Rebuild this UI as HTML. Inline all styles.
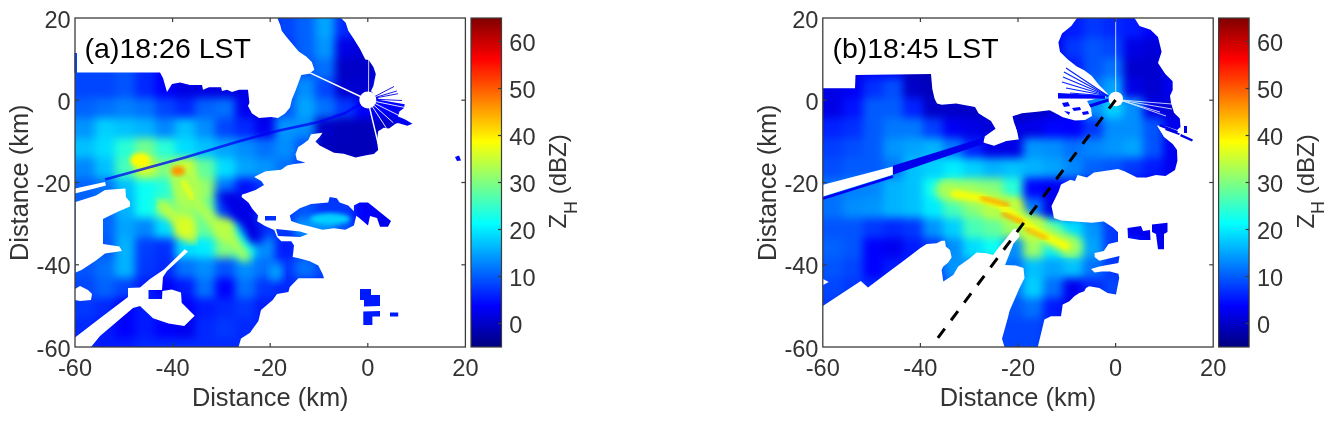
<!DOCTYPE html>
<html><head><meta charset="utf-8"><style>
html,body{margin:0;padding:0;background:#fff;width:1334px;height:421px;overflow:hidden}
svg{display:block;will-change:transform}
text{font-family:"Liberation Sans",sans-serif;}
.tk{font-size:23.6px;fill:#333}
.lb{font-size:25.4px;fill:#333}
.sub{font-size:18px}
.cl{font-size:24px;fill:#333}
.ti{font-size:28.5px;fill:#000}
</style></head><body>
<svg width="1334" height="421" viewBox="0 0 1334 421">
<defs>
<filter id="gbl" x="-5%" y="-5%" width="110%" height="110%" color-interpolation-filters="sRGB"><feGaussianBlur stdDeviation="4"/></filter>
<filter id="bl4" x="-20%" y="-20%" width="140%" height="140%" color-interpolation-filters="sRGB"><feGaussianBlur stdDeviation="4"/></filter>
<filter id="bl7" x="-30%" y="-30%" width="160%" height="160%" color-interpolation-filters="sRGB"><feGaussianBlur stdDeviation="7"/></filter>
<filter id="bl05" x="-5%" y="-20%" width="110%" height="140%" color-interpolation-filters="sRGB"><feGaussianBlur stdDeviation="0.6"/></filter>
<filter id="bl2" x="-20%" y="-20%" width="140%" height="140%" color-interpolation-filters="sRGB"><feGaussianBlur stdDeviation="2"/></filter>
</defs>
<rect width="1334" height="421" fill="#fff"/>
<clipPath id="clipA">
<polygon points="75.0,72.5 160.0,72.5 163.0,78.0 167.0,92.0 172.0,84.0 180.0,82.5 190.0,85.0 202.0,85.0 203.0,89.7 209.0,87.3 221.0,87.3 222.0,91.0 227.0,89.7 232.0,92.0 239.0,89.7 248.0,89.7 249.4,102.8 248.0,106.0 252.0,113.4 259.0,118.0 271.0,117.0 278.0,118.0 285.0,113.4 290.0,107.5 292.0,99.0 294.5,93.3 298.0,84.0 301.3,75.0 309.0,73.7 314.4,69.8 311.8,62.0 306.5,56.8 298.7,51.6 292.2,43.7 285.7,36.0 281.7,30.7 280.4,25.4 277.8,19.0 278.0,18.0 341.0,18.0 345.7,22.8 348.3,30.7 353.5,38.5 360.0,49.0 365.3,59.4 368.7,60.0 373.4,67.0 375.8,74.0 373.4,86.0 371.0,91.0 375.0,96.0 380.0,100.0 404.7,104.2 404.0,108.0 399.4,111.4 398.0,116.6 404.7,119.2 412.5,123.8 407.3,125.8 398.0,123.0 395.5,123.8 389.0,128.4 383.8,127.7 378.2,131.3 377.0,140.8 378.2,150.0 373.8,154.0 367.5,155.0 355.6,157.4 343.8,153.8 334.0,152.8 319.7,145.6 315.4,141.4 319.7,137.0 322.5,132.8 311.0,134.2 308.3,140.0 302.6,144.2 298.3,147.0 295.5,154.2 296.9,160.0 305.4,162.7 294.0,164.0 287.0,165.6 281.2,169.8 265.6,171.3 257.0,175.5 254.2,177.0 261.3,181.0 264.0,185.0 255.6,190.0 247.0,193.0 242.0,194.5 241.4,197.0 248.5,202.8 252.0,208.5 258.0,215.6 257.0,221.3 265.0,226.0 274.2,230.0 277.0,237.0 281.3,241.3 291.3,241.3 294.0,245.6 292.7,257.0 299.8,258.4 309.8,261.2 318.3,265.5 322.6,274.0 324.0,278.3 314.0,278.3 298.4,278.3 289.8,287.0 288.4,292.0 277.0,294.0 272.7,300.0 261.0,310.0 258.4,321.0 250.0,332.7 241.0,338.4 238.5,347.0 75.0,347.0"/>
<polygon points="289.8,215.4 299.8,208.3 311.0,204.0 328.2,202.6 329.7,197.0 336.8,198.3 339.6,202.6 348.2,205.4 356.7,214.0 353.9,225.4 345.3,229.7 334.0,228.2 322.5,229.7 311.0,226.8 299.8,224.0 291.2,221.0"/>
<polygon points="276.0,229.0 300.0,231.5 308.0,234.0 300.0,237.0 278.0,236.0"/>
<polygon points="265.0,216.0 276.0,216.0 276.0,220.5 265.0,220.5"/>
<polygon points="353.9,205.4 359.6,202.6 368.0,202.6 375.2,208.3 382.3,214.0 391.0,221.0 388.0,226.8 380.0,226.8 377.0,218.0 370.0,216.0 368.0,225.4 359.6,218.3 353.9,214.0"/>
<polygon points="360.0,289.0 371.0,289.0 371.0,295.0 380.0,295.0 380.0,306.0 364.0,306.6 364.0,300.0 360.0,300.0"/>
<polygon points="363.3,311.5 380.0,311.0 380.0,316.6 372.4,316.6 372.4,325.0 363.3,325.0"/>
<polygon points="390.0,312.4 398.2,312.4 398.2,316.6 390.0,316.6"/>
<polygon points="455.0,157.0 459.0,155.5 461.0,160.5 457.0,161.0"/>
<polygon points="74.5,53.0 77.0,53.0 77.0,72.6 74.5,72.6"/>
</clipPath>
<g clip-path="url(#clipA)">
<g filter="url(#gbl)"><rect x="55" y="-2" width="20.5" height="20.5" fill="#0045ff"/><rect x="75" y="-2" width="20.5" height="20.5" fill="#0045ff"/><rect x="95" y="-2" width="20.5" height="20.5" fill="#0045ff"/><rect x="115" y="-2" width="20.5" height="20.5" fill="#0054ff"/><rect x="135" y="-2" width="20.5" height="20.5" fill="#0028ff"/><rect x="155" y="-2" width="20.5" height="20.5" fill="#0000fe"/><rect x="175" y="-2" width="20.5" height="20.5" fill="#0000e1"/><rect x="195" y="-2" width="20.5" height="20.5" fill="#0000e1"/><rect x="215" y="-2" width="20.5" height="20.5" fill="#0000e1"/><rect x="235" y="-2" width="20.5" height="20.5" fill="#0000e1"/><rect x="255" y="-2" width="20.5" height="20.5" fill="#0000e1"/><rect x="275" y="-2" width="20.5" height="20.5" fill="#0045ff"/><rect x="295" y="-2" width="20.5" height="20.5" fill="#0062ff"/><rect x="315" y="-2" width="20.5" height="20.5" fill="#00a4ff"/><rect x="335" y="-2" width="20.5" height="20.5" fill="#0028ff"/><rect x="355" y="-2" width="20.5" height="20.5" fill="#0000fe"/><rect x="375" y="-2" width="20.5" height="20.5" fill="#0000fe"/><rect x="395" y="-2" width="20.5" height="20.5" fill="#0000fe"/><rect x="415" y="-2" width="20.5" height="20.5" fill="#0000fe"/><rect x="435" y="-2" width="20.5" height="20.5" fill="#0000fe"/><rect x="455" y="-2" width="20.5" height="20.5" fill="#0000fe"/><rect x="475" y="-2" width="20.5" height="20.5" fill="#0000fe"/><rect x="55" y="18" width="20.5" height="20.5" fill="#0045ff"/><rect x="75" y="18" width="20.5" height="20.5" fill="#0045ff"/><rect x="95" y="18" width="20.5" height="20.5" fill="#0045ff"/><rect x="115" y="18" width="20.5" height="20.5" fill="#0054ff"/><rect x="135" y="18" width="20.5" height="20.5" fill="#0028ff"/><rect x="155" y="18" width="20.5" height="20.5" fill="#0000fe"/><rect x="175" y="18" width="20.5" height="20.5" fill="#0000e1"/><rect x="195" y="18" width="20.5" height="20.5" fill="#0000e1"/><rect x="215" y="18" width="20.5" height="20.5" fill="#0000e1"/><rect x="235" y="18" width="20.5" height="20.5" fill="#0000e1"/><rect x="255" y="18" width="20.5" height="20.5" fill="#0000e1"/><rect x="275" y="18" width="20.5" height="20.5" fill="#0045ff"/><rect x="295" y="18" width="20.5" height="20.5" fill="#0062ff"/><rect x="315" y="18" width="20.5" height="20.5" fill="#00a4ff"/><rect x="335" y="18" width="20.5" height="20.5" fill="#0028ff"/><rect x="355" y="18" width="20.5" height="20.5" fill="#0000fe"/><rect x="375" y="18" width="20.5" height="20.5" fill="#0000fe"/><rect x="395" y="18" width="20.5" height="20.5" fill="#0000fe"/><rect x="415" y="18" width="20.5" height="20.5" fill="#0000fe"/><rect x="435" y="18" width="20.5" height="20.5" fill="#0000fe"/><rect x="455" y="18" width="20.5" height="20.5" fill="#0000fe"/><rect x="475" y="18" width="20.5" height="20.5" fill="#0000fe"/><rect x="55" y="38" width="20.5" height="20.5" fill="#0045ff"/><rect x="75" y="38" width="20.5" height="20.5" fill="#0045ff"/><rect x="95" y="38" width="20.5" height="20.5" fill="#0045ff"/><rect x="115" y="38" width="20.5" height="20.5" fill="#0054ff"/><rect x="135" y="38" width="20.5" height="20.5" fill="#0028ff"/><rect x="155" y="38" width="20.5" height="20.5" fill="#0000fe"/><rect x="175" y="38" width="20.5" height="20.5" fill="#0000e1"/><rect x="195" y="38" width="20.5" height="20.5" fill="#0000e1"/><rect x="215" y="38" width="20.5" height="20.5" fill="#0000e1"/><rect x="235" y="38" width="20.5" height="20.5" fill="#0000e1"/><rect x="255" y="38" width="20.5" height="20.5" fill="#0000e1"/><rect x="275" y="38" width="20.5" height="20.5" fill="#0037ff"/><rect x="295" y="38" width="20.5" height="20.5" fill="#0062ff"/><rect x="315" y="38" width="20.5" height="20.5" fill="#0095ff"/><rect x="335" y="38" width="20.5" height="20.5" fill="#0000e6"/><rect x="355" y="38" width="20.5" height="20.5" fill="#0000d7"/><rect x="375" y="38" width="20.5" height="20.5" fill="#0000f0"/><rect x="395" y="38" width="20.5" height="20.5" fill="#0000fe"/><rect x="415" y="38" width="20.5" height="20.5" fill="#0000fe"/><rect x="435" y="38" width="20.5" height="20.5" fill="#0000fe"/><rect x="455" y="38" width="20.5" height="20.5" fill="#0000fe"/><rect x="475" y="38" width="20.5" height="20.5" fill="#0000fe"/><rect x="55" y="58" width="20.5" height="20.5" fill="#0045ff"/><rect x="75" y="58" width="20.5" height="20.5" fill="#0045ff"/><rect x="95" y="58" width="20.5" height="20.5" fill="#0045ff"/><rect x="115" y="58" width="20.5" height="20.5" fill="#0054ff"/><rect x="135" y="58" width="20.5" height="20.5" fill="#0028ff"/><rect x="155" y="58" width="20.5" height="20.5" fill="#0000fe"/><rect x="175" y="58" width="20.5" height="20.5" fill="#0000e1"/><rect x="195" y="58" width="20.5" height="20.5" fill="#0000e1"/><rect x="215" y="58" width="20.5" height="20.5" fill="#0000e1"/><rect x="235" y="58" width="20.5" height="20.5" fill="#0000e1"/><rect x="255" y="58" width="20.5" height="20.5" fill="#0000e1"/><rect x="275" y="58" width="20.5" height="20.5" fill="#0037ff"/><rect x="295" y="58" width="20.5" height="20.5" fill="#0054ff"/><rect x="315" y="58" width="20.5" height="20.5" fill="#0071ff"/><rect x="335" y="58" width="20.5" height="20.5" fill="#0000c8"/><rect x="355" y="58" width="20.5" height="20.5" fill="#0000c8"/><rect x="375" y="58" width="20.5" height="20.5" fill="#0000f0"/><rect x="395" y="58" width="20.5" height="20.5" fill="#0000fe"/><rect x="415" y="58" width="20.5" height="20.5" fill="#0000fe"/><rect x="435" y="58" width="20.5" height="20.5" fill="#0000fe"/><rect x="455" y="58" width="20.5" height="20.5" fill="#0000fe"/><rect x="475" y="58" width="20.5" height="20.5" fill="#0000fe"/><rect x="55" y="78" width="20.5" height="20.5" fill="#0045ff"/><rect x="75" y="78" width="20.5" height="20.5" fill="#0045ff"/><rect x="95" y="78" width="20.5" height="20.5" fill="#0045ff"/><rect x="115" y="78" width="20.5" height="20.5" fill="#0054ff"/><rect x="135" y="78" width="20.5" height="20.5" fill="#0028ff"/><rect x="155" y="78" width="20.5" height="20.5" fill="#0000fe"/><rect x="175" y="78" width="20.5" height="20.5" fill="#0000e1"/><rect x="195" y="78" width="20.5" height="20.5" fill="#0000e1"/><rect x="215" y="78" width="20.5" height="20.5" fill="#0000e1"/><rect x="235" y="78" width="20.5" height="20.5" fill="#0000e1"/><rect x="255" y="78" width="20.5" height="20.5" fill="#0000e1"/><rect x="275" y="78" width="20.5" height="20.5" fill="#0054ff"/><rect x="295" y="78" width="20.5" height="20.5" fill="#008eff"/><rect x="315" y="78" width="20.5" height="20.5" fill="#0045ff"/><rect x="335" y="78" width="20.5" height="20.5" fill="#0000d0"/><rect x="355" y="78" width="20.5" height="20.5" fill="#0000d0"/><rect x="375" y="78" width="20.5" height="20.5" fill="#001aff"/><rect x="395" y="78" width="20.5" height="20.5" fill="#0000fe"/><rect x="415" y="78" width="20.5" height="20.5" fill="#0000fe"/><rect x="435" y="78" width="20.5" height="20.5" fill="#0000fe"/><rect x="455" y="78" width="20.5" height="20.5" fill="#0000fe"/><rect x="475" y="78" width="20.5" height="20.5" fill="#0000fe"/><rect x="55" y="98" width="20.5" height="20.5" fill="#0062ff"/><rect x="75" y="98" width="20.5" height="20.5" fill="#0062ff"/><rect x="95" y="98" width="20.5" height="20.5" fill="#0071ff"/><rect x="115" y="98" width="20.5" height="20.5" fill="#0080ff"/><rect x="135" y="98" width="20.5" height="20.5" fill="#0071ff"/><rect x="155" y="98" width="20.5" height="20.5" fill="#0045ff"/><rect x="175" y="98" width="20.5" height="20.5" fill="#0028ff"/><rect x="195" y="98" width="20.5" height="20.5" fill="#0062ff"/><rect x="215" y="98" width="20.5" height="20.5" fill="#0071ff"/><rect x="235" y="98" width="20.5" height="20.5" fill="#0000f0"/><rect x="255" y="98" width="20.5" height="20.5" fill="#0000e1"/><rect x="275" y="98" width="20.5" height="20.5" fill="#0054ff"/><rect x="295" y="98" width="20.5" height="20.5" fill="#00a4ff"/><rect x="315" y="98" width="20.5" height="20.5" fill="#0071ff"/><rect x="335" y="98" width="20.5" height="20.5" fill="#0037ff"/><rect x="355" y="98" width="20.5" height="20.5" fill="#0000fe"/><rect x="375" y="98" width="20.5" height="20.5" fill="#0000fe"/><rect x="395" y="98" width="20.5" height="20.5" fill="#0000fe"/><rect x="415" y="98" width="20.5" height="20.5" fill="#0000fe"/><rect x="435" y="98" width="20.5" height="20.5" fill="#0000fe"/><rect x="455" y="98" width="20.5" height="20.5" fill="#0000fe"/><rect x="475" y="98" width="20.5" height="20.5" fill="#0000fe"/><rect x="55" y="118" width="20.5" height="20.5" fill="#0095ff"/><rect x="75" y="118" width="20.5" height="20.5" fill="#0095ff"/><rect x="95" y="118" width="20.5" height="20.5" fill="#00d0ff"/><rect x="115" y="118" width="20.5" height="20.5" fill="#00c1ff"/><rect x="135" y="118" width="20.5" height="20.5" fill="#00b3ff"/><rect x="155" y="118" width="20.5" height="20.5" fill="#0087ff"/><rect x="175" y="118" width="20.5" height="20.5" fill="#00c1ff"/><rect x="195" y="118" width="20.5" height="20.5" fill="#008eff"/><rect x="215" y="118" width="20.5" height="20.5" fill="#0045ff"/><rect x="235" y="118" width="20.5" height="20.5" fill="#0028ff"/><rect x="255" y="118" width="20.5" height="20.5" fill="#0000f0"/><rect x="275" y="118" width="20.5" height="20.5" fill="#0095ff"/><rect x="295" y="118" width="20.5" height="20.5" fill="#008eff"/><rect x="315" y="118" width="20.5" height="20.5" fill="#0000c8"/><rect x="335" y="118" width="20.5" height="20.5" fill="#0000ba"/><rect x="355" y="118" width="20.5" height="20.5" fill="#0000ba"/><rect x="375" y="118" width="20.5" height="20.5" fill="#0000c8"/><rect x="395" y="118" width="20.5" height="20.5" fill="#0000f0"/><rect x="415" y="118" width="20.5" height="20.5" fill="#0000fe"/><rect x="435" y="118" width="20.5" height="20.5" fill="#0000fe"/><rect x="455" y="118" width="20.5" height="20.5" fill="#0000fe"/><rect x="475" y="118" width="20.5" height="20.5" fill="#0000fe"/><rect x="55" y="138" width="20.5" height="20.5" fill="#00c1ff"/><rect x="75" y="138" width="20.5" height="20.5" fill="#00c1ff"/><rect x="95" y="138" width="20.5" height="20.5" fill="#00deff"/><rect x="115" y="138" width="20.5" height="20.5" fill="#28ffd7"/><rect x="135" y="138" width="20.5" height="20.5" fill="#71ff8e"/><rect x="155" y="138" width="20.5" height="20.5" fill="#28ffd7"/><rect x="175" y="138" width="20.5" height="20.5" fill="#00deff"/><rect x="195" y="138" width="20.5" height="20.5" fill="#00c1ff"/><rect x="215" y="138" width="20.5" height="20.5" fill="#00a4ff"/><rect x="235" y="138" width="20.5" height="20.5" fill="#008eff"/><rect x="255" y="138" width="20.5" height="20.5" fill="#0071ff"/><rect x="275" y="138" width="20.5" height="20.5" fill="#008eff"/><rect x="295" y="138" width="20.5" height="20.5" fill="#0054ff"/><rect x="315" y="138" width="20.5" height="20.5" fill="#0000c1"/><rect x="335" y="138" width="20.5" height="20.5" fill="#0000ba"/><rect x="355" y="138" width="20.5" height="20.5" fill="#0000ba"/><rect x="375" y="138" width="20.5" height="20.5" fill="#0000c8"/><rect x="395" y="138" width="20.5" height="20.5" fill="#0000f0"/><rect x="415" y="138" width="20.5" height="20.5" fill="#0000fe"/><rect x="435" y="138" width="20.5" height="20.5" fill="#0000fe"/><rect x="455" y="138" width="20.5" height="20.5" fill="#0000fe"/><rect x="475" y="138" width="20.5" height="20.5" fill="#0000fe"/><rect x="55" y="158" width="20.5" height="20.5" fill="#0087ff"/><rect x="75" y="158" width="20.5" height="20.5" fill="#0087ff"/><rect x="95" y="158" width="20.5" height="20.5" fill="#00c1ff"/><rect x="115" y="158" width="20.5" height="20.5" fill="#45ffba"/><rect x="135" y="158" width="20.5" height="20.5" fill="#d7ff28"/><rect x="155" y="158" width="20.5" height="20.5" fill="#80ff80"/><rect x="175" y="158" width="20.5" height="20.5" fill="#d7ff28"/><rect x="195" y="158" width="20.5" height="20.5" fill="#62ff9d"/><rect x="215" y="158" width="20.5" height="20.5" fill="#00deff"/><rect x="235" y="158" width="20.5" height="20.5" fill="#00a4ff"/><rect x="255" y="158" width="20.5" height="20.5" fill="#0095ff"/><rect x="275" y="158" width="20.5" height="20.5" fill="#0071ff"/><rect x="295" y="158" width="20.5" height="20.5" fill="#0037ff"/><rect x="315" y="158" width="20.5" height="20.5" fill="#0000d7"/><rect x="335" y="158" width="20.5" height="20.5" fill="#0000c8"/><rect x="355" y="158" width="20.5" height="20.5" fill="#0000c8"/><rect x="375" y="158" width="20.5" height="20.5" fill="#0000d7"/><rect x="395" y="158" width="20.5" height="20.5" fill="#0000fe"/><rect x="415" y="158" width="20.5" height="20.5" fill="#0000fe"/><rect x="435" y="158" width="20.5" height="20.5" fill="#0000fe"/><rect x="455" y="158" width="20.5" height="20.5" fill="#0000fe"/><rect x="475" y="158" width="20.5" height="20.5" fill="#0000fe"/><rect x="55" y="178" width="20.5" height="20.5" fill="#0062ff"/><rect x="75" y="178" width="20.5" height="20.5" fill="#0062ff"/><rect x="95" y="178" width="20.5" height="20.5" fill="#0071ff"/><rect x="115" y="178" width="20.5" height="20.5" fill="#00c1ff"/><rect x="135" y="178" width="20.5" height="20.5" fill="#0bfff4"/><rect x="155" y="178" width="20.5" height="20.5" fill="#28ffd7"/><rect x="175" y="178" width="20.5" height="20.5" fill="#d7ff28"/><rect x="195" y="178" width="20.5" height="20.5" fill="#8eff71"/><rect x="215" y="178" width="20.5" height="20.5" fill="#0078ff"/><rect x="235" y="178" width="20.5" height="20.5" fill="#0012ff"/><rect x="255" y="178" width="20.5" height="20.5" fill="#0037ff"/><rect x="275" y="178" width="20.5" height="20.5" fill="#0037ff"/><rect x="295" y="178" width="20.5" height="20.5" fill="#0037ff"/><rect x="315" y="178" width="20.5" height="20.5" fill="#0037ff"/><rect x="335" y="178" width="20.5" height="20.5" fill="#0028ff"/><rect x="355" y="178" width="20.5" height="20.5" fill="#0000fe"/><rect x="375" y="178" width="20.5" height="20.5" fill="#0000fe"/><rect x="395" y="178" width="20.5" height="20.5" fill="#0000fe"/><rect x="415" y="178" width="20.5" height="20.5" fill="#0000fe"/><rect x="435" y="178" width="20.5" height="20.5" fill="#0000fe"/><rect x="455" y="178" width="20.5" height="20.5" fill="#0000fe"/><rect x="475" y="178" width="20.5" height="20.5" fill="#0000fe"/><rect x="55" y="198" width="20.5" height="20.5" fill="#0062ff"/><rect x="75" y="198" width="20.5" height="20.5" fill="#0062ff"/><rect x="95" y="198" width="20.5" height="20.5" fill="#0062ff"/><rect x="115" y="198" width="20.5" height="20.5" fill="#00b3ff"/><rect x="135" y="198" width="20.5" height="20.5" fill="#0bfff4"/><rect x="155" y="198" width="20.5" height="20.5" fill="#62ff9d"/><rect x="175" y="198" width="20.5" height="20.5" fill="#9dff62"/><rect x="195" y="198" width="20.5" height="20.5" fill="#62ff9d"/><rect x="215" y="198" width="20.5" height="20.5" fill="#004dff"/><rect x="235" y="198" width="20.5" height="20.5" fill="#0004ff"/><rect x="255" y="198" width="20.5" height="20.5" fill="#0028ff"/><rect x="275" y="198" width="20.5" height="20.5" fill="#0037ff"/><rect x="295" y="198" width="20.5" height="20.5" fill="#0054ff"/><rect x="315" y="198" width="20.5" height="20.5" fill="#0037ff"/><rect x="335" y="198" width="20.5" height="20.5" fill="#0037ff"/><rect x="355" y="198" width="20.5" height="20.5" fill="#0000fe"/><rect x="375" y="198" width="20.5" height="20.5" fill="#0000f0"/><rect x="395" y="198" width="20.5" height="20.5" fill="#0000fe"/><rect x="415" y="198" width="20.5" height="20.5" fill="#0000fe"/><rect x="435" y="198" width="20.5" height="20.5" fill="#0000fe"/><rect x="455" y="198" width="20.5" height="20.5" fill="#0000fe"/><rect x="475" y="198" width="20.5" height="20.5" fill="#0000fe"/><rect x="55" y="218" width="20.5" height="20.5" fill="#0062ff"/><rect x="75" y="218" width="20.5" height="20.5" fill="#0062ff"/><rect x="95" y="218" width="20.5" height="20.5" fill="#0062ff"/><rect x="115" y="218" width="20.5" height="20.5" fill="#00a4ff"/><rect x="135" y="218" width="20.5" height="20.5" fill="#0087ff"/><rect x="155" y="218" width="20.5" height="20.5" fill="#00deff"/><rect x="175" y="218" width="20.5" height="20.5" fill="#e5ff1a"/><rect x="195" y="218" width="20.5" height="20.5" fill="#62ff9d"/><rect x="215" y="218" width="20.5" height="20.5" fill="#baff45"/><rect x="235" y="218" width="20.5" height="20.5" fill="#00edff"/><rect x="255" y="218" width="20.5" height="20.5" fill="#0037ff"/><rect x="275" y="218" width="20.5" height="20.5" fill="#0037ff"/><rect x="295" y="218" width="20.5" height="20.5" fill="#0095ff"/><rect x="315" y="218" width="20.5" height="20.5" fill="#008eff"/><rect x="335" y="218" width="20.5" height="20.5" fill="#0054ff"/><rect x="355" y="218" width="20.5" height="20.5" fill="#0000fe"/><rect x="375" y="218" width="20.5" height="20.5" fill="#0000f0"/><rect x="395" y="218" width="20.5" height="20.5" fill="#0000fe"/><rect x="415" y="218" width="20.5" height="20.5" fill="#0000fe"/><rect x="435" y="218" width="20.5" height="20.5" fill="#0000fe"/><rect x="455" y="218" width="20.5" height="20.5" fill="#0000fe"/><rect x="475" y="218" width="20.5" height="20.5" fill="#0000fe"/><rect x="55" y="238" width="20.5" height="20.5" fill="#0054ff"/><rect x="75" y="238" width="20.5" height="20.5" fill="#0054ff"/><rect x="95" y="238" width="20.5" height="20.5" fill="#0054ff"/><rect x="115" y="238" width="20.5" height="20.5" fill="#00b3ff"/><rect x="135" y="238" width="20.5" height="20.5" fill="#003eff"/><rect x="155" y="238" width="20.5" height="20.5" fill="#002fff"/><rect x="175" y="238" width="20.5" height="20.5" fill="#00deff"/><rect x="195" y="238" width="20.5" height="20.5" fill="#00edff"/><rect x="215" y="238" width="20.5" height="20.5" fill="#80ff80"/><rect x="235" y="238" width="20.5" height="20.5" fill="#0bfff4"/><rect x="255" y="238" width="20.5" height="20.5" fill="#008eff"/><rect x="275" y="238" width="20.5" height="20.5" fill="#001aff"/><rect x="295" y="238" width="20.5" height="20.5" fill="#0037ff"/><rect x="315" y="238" width="20.5" height="20.5" fill="#0037ff"/><rect x="335" y="238" width="20.5" height="20.5" fill="#0037ff"/><rect x="355" y="238" width="20.5" height="20.5" fill="#0000fe"/><rect x="375" y="238" width="20.5" height="20.5" fill="#0000fe"/><rect x="395" y="238" width="20.5" height="20.5" fill="#0000fe"/><rect x="415" y="238" width="20.5" height="20.5" fill="#0000fe"/><rect x="435" y="238" width="20.5" height="20.5" fill="#0000fe"/><rect x="455" y="238" width="20.5" height="20.5" fill="#0000fe"/><rect x="475" y="238" width="20.5" height="20.5" fill="#0000fe"/><rect x="55" y="258" width="20.5" height="20.5" fill="#0054ff"/><rect x="75" y="258" width="20.5" height="20.5" fill="#0054ff"/><rect x="95" y="258" width="20.5" height="20.5" fill="#0071ff"/><rect x="115" y="258" width="20.5" height="20.5" fill="#00b3ff"/><rect x="135" y="258" width="20.5" height="20.5" fill="#0037ff"/><rect x="155" y="258" width="20.5" height="20.5" fill="#0028ff"/><rect x="175" y="258" width="20.5" height="20.5" fill="#0071ff"/><rect x="195" y="258" width="20.5" height="20.5" fill="#008eff"/><rect x="215" y="258" width="20.5" height="20.5" fill="#0054ff"/><rect x="235" y="258" width="20.5" height="20.5" fill="#008eff"/><rect x="255" y="258" width="20.5" height="20.5" fill="#0071ff"/><rect x="275" y="258" width="20.5" height="20.5" fill="#0037ff"/><rect x="295" y="258" width="20.5" height="20.5" fill="#0071ff"/><rect x="315" y="258" width="20.5" height="20.5" fill="#0045ff"/><rect x="335" y="258" width="20.5" height="20.5" fill="#0028ff"/><rect x="355" y="258" width="20.5" height="20.5" fill="#001aff"/><rect x="375" y="258" width="20.5" height="20.5" fill="#001aff"/><rect x="395" y="258" width="20.5" height="20.5" fill="#001aff"/><rect x="415" y="258" width="20.5" height="20.5" fill="#001aff"/><rect x="435" y="258" width="20.5" height="20.5" fill="#001aff"/><rect x="455" y="258" width="20.5" height="20.5" fill="#001aff"/><rect x="475" y="258" width="20.5" height="20.5" fill="#001aff"/><rect x="55" y="278" width="20.5" height="20.5" fill="#0045ff"/><rect x="75" y="278" width="20.5" height="20.5" fill="#0045ff"/><rect x="95" y="278" width="20.5" height="20.5" fill="#0062ff"/><rect x="115" y="278" width="20.5" height="20.5" fill="#0045ff"/><rect x="135" y="278" width="20.5" height="20.5" fill="#001aff"/><rect x="155" y="278" width="20.5" height="20.5" fill="#0000fe"/><rect x="175" y="278" width="20.5" height="20.5" fill="#001aff"/><rect x="195" y="278" width="20.5" height="20.5" fill="#0071ff"/><rect x="215" y="278" width="20.5" height="20.5" fill="#0000fe"/><rect x="235" y="278" width="20.5" height="20.5" fill="#0071ff"/><rect x="255" y="278" width="20.5" height="20.5" fill="#0037ff"/><rect x="275" y="278" width="20.5" height="20.5" fill="#0028ff"/><rect x="295" y="278" width="20.5" height="20.5" fill="#0028ff"/><rect x="315" y="278" width="20.5" height="20.5" fill="#0028ff"/><rect x="335" y="278" width="20.5" height="20.5" fill="#001aff"/><rect x="355" y="278" width="20.5" height="20.5" fill="#001aff"/><rect x="375" y="278" width="20.5" height="20.5" fill="#001aff"/><rect x="395" y="278" width="20.5" height="20.5" fill="#001aff"/><rect x="415" y="278" width="20.5" height="20.5" fill="#001aff"/><rect x="435" y="278" width="20.5" height="20.5" fill="#001aff"/><rect x="455" y="278" width="20.5" height="20.5" fill="#001aff"/><rect x="475" y="278" width="20.5" height="20.5" fill="#001aff"/><rect x="55" y="298" width="20.5" height="20.5" fill="#0037ff"/><rect x="75" y="298" width="20.5" height="20.5" fill="#0037ff"/><rect x="95" y="298" width="20.5" height="20.5" fill="#0028ff"/><rect x="115" y="298" width="20.5" height="20.5" fill="#0000fe"/><rect x="135" y="298" width="20.5" height="20.5" fill="#001aff"/><rect x="155" y="298" width="20.5" height="20.5" fill="#001aff"/><rect x="175" y="298" width="20.5" height="20.5" fill="#0000fe"/><rect x="195" y="298" width="20.5" height="20.5" fill="#001aff"/><rect x="215" y="298" width="20.5" height="20.5" fill="#0028ff"/><rect x="235" y="298" width="20.5" height="20.5" fill="#0037ff"/><rect x="255" y="298" width="20.5" height="20.5" fill="#001aff"/><rect x="275" y="298" width="20.5" height="20.5" fill="#001aff"/><rect x="295" y="298" width="20.5" height="20.5" fill="#001aff"/><rect x="315" y="298" width="20.5" height="20.5" fill="#001aff"/><rect x="335" y="298" width="20.5" height="20.5" fill="#001aff"/><rect x="355" y="298" width="20.5" height="20.5" fill="#001aff"/><rect x="375" y="298" width="20.5" height="20.5" fill="#001aff"/><rect x="395" y="298" width="20.5" height="20.5" fill="#001aff"/><rect x="415" y="298" width="20.5" height="20.5" fill="#001aff"/><rect x="435" y="298" width="20.5" height="20.5" fill="#001aff"/><rect x="455" y="298" width="20.5" height="20.5" fill="#001aff"/><rect x="475" y="298" width="20.5" height="20.5" fill="#001aff"/><rect x="55" y="318" width="20.5" height="20.5" fill="#0028ff"/><rect x="75" y="318" width="20.5" height="20.5" fill="#0028ff"/><rect x="95" y="318" width="20.5" height="20.5" fill="#001aff"/><rect x="115" y="318" width="20.5" height="20.5" fill="#0000fe"/><rect x="135" y="318" width="20.5" height="20.5" fill="#001aff"/><rect x="155" y="318" width="20.5" height="20.5" fill="#0000fe"/><rect x="175" y="318" width="20.5" height="20.5" fill="#0000f0"/><rect x="195" y="318" width="20.5" height="20.5" fill="#0028ff"/><rect x="215" y="318" width="20.5" height="20.5" fill="#0037ff"/><rect x="235" y="318" width="20.5" height="20.5" fill="#0028ff"/><rect x="255" y="318" width="20.5" height="20.5" fill="#0028ff"/><rect x="275" y="318" width="20.5" height="20.5" fill="#001aff"/><rect x="295" y="318" width="20.5" height="20.5" fill="#001aff"/><rect x="315" y="318" width="20.5" height="20.5" fill="#001aff"/><rect x="335" y="318" width="20.5" height="20.5" fill="#001aff"/><rect x="355" y="318" width="20.5" height="20.5" fill="#001aff"/><rect x="375" y="318" width="20.5" height="20.5" fill="#001aff"/><rect x="395" y="318" width="20.5" height="20.5" fill="#001aff"/><rect x="415" y="318" width="20.5" height="20.5" fill="#001aff"/><rect x="435" y="318" width="20.5" height="20.5" fill="#001aff"/><rect x="455" y="318" width="20.5" height="20.5" fill="#001aff"/><rect x="475" y="318" width="20.5" height="20.5" fill="#001aff"/><rect x="55" y="338" width="20.5" height="20.5" fill="#0028ff"/><rect x="75" y="338" width="20.5" height="20.5" fill="#0028ff"/><rect x="95" y="338" width="20.5" height="20.5" fill="#001aff"/><rect x="115" y="338" width="20.5" height="20.5" fill="#001aff"/><rect x="135" y="338" width="20.5" height="20.5" fill="#0028ff"/><rect x="155" y="338" width="20.5" height="20.5" fill="#0028ff"/><rect x="175" y="338" width="20.5" height="20.5" fill="#0028ff"/><rect x="195" y="338" width="20.5" height="20.5" fill="#0028ff"/><rect x="215" y="338" width="20.5" height="20.5" fill="#0028ff"/><rect x="235" y="338" width="20.5" height="20.5" fill="#0028ff"/><rect x="255" y="338" width="20.5" height="20.5" fill="#0028ff"/><rect x="275" y="338" width="20.5" height="20.5" fill="#001aff"/><rect x="295" y="338" width="20.5" height="20.5" fill="#001aff"/><rect x="315" y="338" width="20.5" height="20.5" fill="#001aff"/><rect x="335" y="338" width="20.5" height="20.5" fill="#001aff"/><rect x="355" y="338" width="20.5" height="20.5" fill="#001aff"/><rect x="375" y="338" width="20.5" height="20.5" fill="#001aff"/><rect x="395" y="338" width="20.5" height="20.5" fill="#001aff"/><rect x="415" y="338" width="20.5" height="20.5" fill="#001aff"/><rect x="435" y="338" width="20.5" height="20.5" fill="#001aff"/><rect x="455" y="338" width="20.5" height="20.5" fill="#001aff"/><rect x="475" y="338" width="20.5" height="20.5" fill="#001aff"/><rect x="55" y="358" width="20.5" height="20.5" fill="#0028ff"/><rect x="75" y="358" width="20.5" height="20.5" fill="#0028ff"/><rect x="95" y="358" width="20.5" height="20.5" fill="#001aff"/><rect x="115" y="358" width="20.5" height="20.5" fill="#001aff"/><rect x="135" y="358" width="20.5" height="20.5" fill="#0028ff"/><rect x="155" y="358" width="20.5" height="20.5" fill="#0028ff"/><rect x="175" y="358" width="20.5" height="20.5" fill="#0028ff"/><rect x="195" y="358" width="20.5" height="20.5" fill="#0028ff"/><rect x="215" y="358" width="20.5" height="20.5" fill="#0028ff"/><rect x="235" y="358" width="20.5" height="20.5" fill="#0028ff"/><rect x="255" y="358" width="20.5" height="20.5" fill="#0028ff"/><rect x="275" y="358" width="20.5" height="20.5" fill="#001aff"/><rect x="295" y="358" width="20.5" height="20.5" fill="#001aff"/><rect x="315" y="358" width="20.5" height="20.5" fill="#001aff"/><rect x="335" y="358" width="20.5" height="20.5" fill="#001aff"/><rect x="355" y="358" width="20.5" height="20.5" fill="#001aff"/><rect x="375" y="358" width="20.5" height="20.5" fill="#001aff"/><rect x="395" y="358" width="20.5" height="20.5" fill="#001aff"/><rect x="415" y="358" width="20.5" height="20.5" fill="#001aff"/><rect x="435" y="358" width="20.5" height="20.5" fill="#001aff"/><rect x="455" y="358" width="20.5" height="20.5" fill="#001aff"/><rect x="475" y="358" width="20.5" height="20.5" fill="#001aff"/></g>
<ellipse cx="330" cy="219" rx="20" ry="6" fill="#00d0ff" filter="url(#bl2)"/>
<ellipse cx="276" cy="272" rx="7" ry="10" fill="#00a4ff" filter="url(#bl4)"/>
<polygon points="216.0,192.0 236.0,191.0 250.0,204.0 262.0,224.0 262.0,244.0 250.0,244.0 240.0,226.0 226.0,210.0" fill="#0000e6" filter="url(#bl4)"/>
<ellipse cx="140" cy="160" rx="10" ry="7" fill="#fffb00" filter="url(#bl2)"/>
<polygon points="170.0,166.0 190.0,170.0 204.0,190.0 200.0,207.0 184.0,205.0 172.0,186.0" fill="#abff54" filter="url(#bl4)"/>
<ellipse cx="178" cy="171" rx="7" ry="5" fill="#ff9500" filter="url(#bl2)"/>
<polyline points="162.0,205.0 178.0,222.0 192.0,239.0" fill="none" stroke="#d7ff28" stroke-width="9" stroke-linecap="round" stroke-linejoin="round" filter="url(#bl4)"/>
<polyline points="198.0,204.0 215.0,224.0 233.0,241.0 245.0,257.0" fill="none" stroke="#baff45" stroke-width="10" stroke-linecap="round" stroke-linejoin="round" filter="url(#bl4)"/>
<polyline points="183.0,182.0 192.0,197.0" fill="none" stroke="#e5ff1a" stroke-width="6" stroke-linecap="round" stroke-linejoin="round" filter="url(#bl2)"/>
<polyline points="105,179.5 185,157.5 240,141 278,130.7 320,121.8 345,113 362,103" fill="none" stroke="#0000f4" stroke-width="2.6" opacity="0.75" filter="url(#bl05)"/>
</g>
<polygon points="75.0,188.5 105.0,182.0 106.0,185.5 75.0,193.5" fill="#fff"/>
<polygon points="75.6,202.0 96.0,195.5 105.0,190.0 125.4,188.5 126.0,197.0 130.0,202.0 130.0,206.5 119.5,211.0 110.0,215.5 103.0,219.0 103.0,244.0 119.5,246.5 122.0,251.0 105.0,253.5 96.0,260.5 81.5,270.0 75.6,272.5" fill="#fff"/>
<polygon points="75.0,289.0 80.0,286.0 88.0,290.0 92.0,294.0 91.0,300.0 80.0,301.0 75.0,300.0" fill="#fff"/>
<polygon points="75.0,337.4 100.0,318.3 128.0,297.0 128.0,288.0 140.0,287.5 150.0,279.0 164.0,269.4 184.8,249.3 188.0,251.6 167.0,271.0 163.0,277.0 162.0,290.0 148.5,290.0 148.5,299.0 162.0,299.0 162.4,291.0 171.7,289.4 181.0,292.5 181.7,302.7 194.7,315.7 184.3,326.0 168.6,323.5 153.0,318.3 140.0,306.0 133.0,308.0 100.0,336.0 91.0,347.0 75.0,347.0" fill="#fff"/>
<g stroke="#0000e6" stroke-width="0.9">
<line x1="370" y1="99" x2="394" y2="86.5"/>
<line x1="370" y1="99" x2="396.8" y2="91"/>
<line x1="370" y1="99" x2="398" y2="93.7"/>
<line x1="370" y1="99" x2="402" y2="100.5"/>
</g>
<g stroke="#fff" stroke-linecap="round">
<line x1="368" y1="100" x2="309" y2="72.4" stroke-width="1.5"/>
<line x1="368.5" y1="100" x2="368.7" y2="60" stroke-width="1.0" opacity="0.8"/>
<line x1="368.7" y1="104" x2="378" y2="143" stroke-width="1.4"/>
<line x1="368" y1="100" x2="405" y2="107.5" stroke-width="0.9"/>
<line x1="368" y1="100" x2="400" y2="116" stroke-width="0.9"/>
<line x1="368" y1="100" x2="393" y2="122.5" stroke-width="0.9"/>
<line x1="368" y1="100" x2="386" y2="127.5" stroke-width="0.9"/>
</g>
<circle cx="367.8" cy="100" r="8.5" fill="#fff"/>
<clipPath id="clipB">
<polygon points="823.0,88.3 855.0,88.3 855.5,75.0 931.0,74.0 932.3,89.0 934.6,98.8 937.0,103.5 941.8,104.7 956.0,103.5 975.0,107.0 978.5,113.2 983.2,116.3 991.0,121.0 995.5,128.7 984.7,136.4 983.2,142.6 994.0,145.7 1006.3,141.0 1018.7,139.5 1017.0,130.2 1014.0,122.5 1012.5,116.3 1021.8,113.2 1037.2,111.7 1049.6,110.2 1055.0,113.0 1062.0,117.0 1075.0,120.5 1085.0,120.0 1092.0,116.0 1091.0,108.0 1087.0,101.0 1097.0,98.5 1105.2,97.8 1108.0,94.0 1104.5,90.5 1099.0,85.0 1091.6,75.8 1084.2,70.3 1076.8,66.6 1067.6,59.2 1060.0,51.8 1058.4,42.6 1062.0,33.4 1071.3,26.0 1077.0,18.0 1134.5,18.0 1139.5,26.0 1150.5,29.7 1158.0,37.0 1161.6,51.8 1158.0,63.0 1165.3,74.0 1172.6,81.3 1172.7,90.0 1170.0,95.7 1171.0,102.8 1172.7,108.5 1174.0,112.8 1179.8,118.5 1180.5,127.0 1177.0,130.0 1165.0,126.0 1157.0,125.6 1164.0,137.0 1172.7,144.0 1177.0,150.0 1177.4,160.8 1175.0,170.0 1165.5,176.0 1156.0,175.0 1146.5,177.4 1137.0,177.4 1125.0,171.4 1118.0,169.0 1094.0,172.6 1087.0,177.4 1077.6,175.0 1075.0,181.0 1070.5,179.8 1061.0,184.5 1058.6,191.6 1051.5,206.0 1054.0,218.0 1061.0,220.4 1092.0,222.7 1103.8,221.6 1113.0,227.5 1118.0,232.3 1118.0,241.8 1108.5,244.0 1103.8,251.0 1094.6,253.0 1094.6,257.0 1099.3,260.7 1110.0,258.3 1119.5,256.0 1118.4,263.0 1099.3,266.6 1091.0,269.0 1094.6,272.6 1101.7,271.4 1110.0,271.4 1118.4,273.8 1119.2,278.0 1117.6,286.3 1116.0,294.6 1107.6,293.0 1099.3,288.0 1089.3,286.3 1086.0,288.0 1084.3,291.3 1079.3,293.0 1074.3,296.3 1069.4,301.3 1062.7,304.6 1061.0,316.2 1051.0,316.2 1044.4,319.6 1037.8,347.0 1004.5,347.0 1002.0,338.7 1007.8,318.0 1009.5,311.0 1014.5,299.6 1019.5,288.0 1024.5,278.0 1023.5,268.0 1016.0,265.5 1005.0,265.0 1009.0,255.0 1013.5,243.5 1019.5,236.4 1018.0,229.0 1013.5,229.0 1006.4,238.3 998.1,248.3 993.1,254.9 986.5,253.2 976.5,252.4 969.9,258.2 958.2,266.5 953.2,274.9 943.3,281.5 941.6,270.0 943.3,266.5 948.2,262.4 951.6,257.4 950.0,250.0 945.8,246.6 945.0,240.8 941.6,240.8 936.6,243.3 926.6,244.0 920.0,248.3 906.0,259.0 889.5,271.3 868.0,287.6 860.8,281.0 822.8,306.0"/>
<polygon points="1127.5,228.0 1141.0,226.0 1143.0,231.0 1150.0,230.0 1150.5,240.0 1140.0,240.0 1128.0,238.0"/>
<polygon points="1152.0,224.6 1167.5,222.7 1167.5,232.0 1164.0,234.0 1164.0,249.3 1158.0,249.3 1156.0,234.0 1152.0,232.0"/>
</clipPath>
<g clip-path="url(#clipB)">
<g filter="url(#gbl)"><rect x="803" y="-2" width="20.5" height="20.5" fill="#0000fe"/><rect x="823" y="-2" width="20.5" height="20.5" fill="#0000fe"/><rect x="843" y="-2" width="20.5" height="20.5" fill="#0000fe"/><rect x="863" y="-2" width="20.5" height="20.5" fill="#0000fe"/><rect x="883" y="-2" width="20.5" height="20.5" fill="#0000fe"/><rect x="903" y="-2" width="20.5" height="20.5" fill="#0000fe"/><rect x="923" y="-2" width="20.5" height="20.5" fill="#0000fe"/><rect x="943" y="-2" width="20.5" height="20.5" fill="#0000fe"/><rect x="963" y="-2" width="20.5" height="20.5" fill="#0000fe"/><rect x="983" y="-2" width="20.5" height="20.5" fill="#0000fe"/><rect x="1003" y="-2" width="20.5" height="20.5" fill="#0000fe"/><rect x="1023" y="-2" width="20.5" height="20.5" fill="#0000fe"/><rect x="1043" y="-2" width="20.5" height="20.5" fill="#0000fe"/><rect x="1063" y="-2" width="20.5" height="20.5" fill="#001aff"/><rect x="1083" y="-2" width="20.5" height="20.5" fill="#0037ff"/><rect x="1103" y="-2" width="20.5" height="20.5" fill="#0028ff"/><rect x="1123" y="-2" width="20.5" height="20.5" fill="#001aff"/><rect x="1143" y="-2" width="20.5" height="20.5" fill="#0000fe"/><rect x="1163" y="-2" width="20.5" height="20.5" fill="#0000fe"/><rect x="1183" y="-2" width="20.5" height="20.5" fill="#0000fe"/><rect x="1203" y="-2" width="20.5" height="20.5" fill="#0000fe"/><rect x="1223" y="-2" width="20.5" height="20.5" fill="#0000fe"/><rect x="803" y="18" width="20.5" height="20.5" fill="#0000fe"/><rect x="823" y="18" width="20.5" height="20.5" fill="#0000fe"/><rect x="843" y="18" width="20.5" height="20.5" fill="#0000fe"/><rect x="863" y="18" width="20.5" height="20.5" fill="#0000fe"/><rect x="883" y="18" width="20.5" height="20.5" fill="#0000fe"/><rect x="903" y="18" width="20.5" height="20.5" fill="#0000fe"/><rect x="923" y="18" width="20.5" height="20.5" fill="#0000fe"/><rect x="943" y="18" width="20.5" height="20.5" fill="#0000fe"/><rect x="963" y="18" width="20.5" height="20.5" fill="#0000fe"/><rect x="983" y="18" width="20.5" height="20.5" fill="#0000fe"/><rect x="1003" y="18" width="20.5" height="20.5" fill="#0000fe"/><rect x="1023" y="18" width="20.5" height="20.5" fill="#0000fe"/><rect x="1043" y="18" width="20.5" height="20.5" fill="#0000fe"/><rect x="1063" y="18" width="20.5" height="20.5" fill="#001aff"/><rect x="1083" y="18" width="20.5" height="20.5" fill="#0037ff"/><rect x="1103" y="18" width="20.5" height="20.5" fill="#0028ff"/><rect x="1123" y="18" width="20.5" height="20.5" fill="#001aff"/><rect x="1143" y="18" width="20.5" height="20.5" fill="#0000fe"/><rect x="1163" y="18" width="20.5" height="20.5" fill="#0000fe"/><rect x="1183" y="18" width="20.5" height="20.5" fill="#0000fe"/><rect x="1203" y="18" width="20.5" height="20.5" fill="#0000fe"/><rect x="1223" y="18" width="20.5" height="20.5" fill="#0000fe"/><rect x="803" y="38" width="20.5" height="20.5" fill="#0000fe"/><rect x="823" y="38" width="20.5" height="20.5" fill="#0000fe"/><rect x="843" y="38" width="20.5" height="20.5" fill="#0000fe"/><rect x="863" y="38" width="20.5" height="20.5" fill="#0000fe"/><rect x="883" y="38" width="20.5" height="20.5" fill="#0000fe"/><rect x="903" y="38" width="20.5" height="20.5" fill="#0000fe"/><rect x="923" y="38" width="20.5" height="20.5" fill="#0000fe"/><rect x="943" y="38" width="20.5" height="20.5" fill="#0000fe"/><rect x="963" y="38" width="20.5" height="20.5" fill="#0000fe"/><rect x="983" y="38" width="20.5" height="20.5" fill="#0000fe"/><rect x="1003" y="38" width="20.5" height="20.5" fill="#0000fe"/><rect x="1023" y="38" width="20.5" height="20.5" fill="#0000fe"/><rect x="1043" y="38" width="20.5" height="20.5" fill="#0000f0"/><rect x="1063" y="38" width="20.5" height="20.5" fill="#0037ff"/><rect x="1083" y="38" width="20.5" height="20.5" fill="#0054ff"/><rect x="1103" y="38" width="20.5" height="20.5" fill="#0045ff"/><rect x="1123" y="38" width="20.5" height="20.5" fill="#0000e6"/><rect x="1143" y="38" width="20.5" height="20.5" fill="#0000d7"/><rect x="1163" y="38" width="20.5" height="20.5" fill="#0000fe"/><rect x="1183" y="38" width="20.5" height="20.5" fill="#0000fe"/><rect x="1203" y="38" width="20.5" height="20.5" fill="#0000fe"/><rect x="1223" y="38" width="20.5" height="20.5" fill="#0000fe"/><rect x="803" y="58" width="20.5" height="20.5" fill="#0000e6"/><rect x="823" y="58" width="20.5" height="20.5" fill="#0000e6"/><rect x="843" y="58" width="20.5" height="20.5" fill="#0000e6"/><rect x="863" y="58" width="20.5" height="20.5" fill="#0000f4"/><rect x="883" y="58" width="20.5" height="20.5" fill="#0000f4"/><rect x="903" y="58" width="20.5" height="20.5" fill="#0000ba"/><rect x="923" y="58" width="20.5" height="20.5" fill="#0000ba"/><rect x="943" y="58" width="20.5" height="20.5" fill="#0000ba"/><rect x="963" y="58" width="20.5" height="20.5" fill="#0000ba"/><rect x="983" y="58" width="20.5" height="20.5" fill="#0000ba"/><rect x="1003" y="58" width="20.5" height="20.5" fill="#0000ba"/><rect x="1023" y="58" width="20.5" height="20.5" fill="#0000fe"/><rect x="1043" y="58" width="20.5" height="20.5" fill="#0000fe"/><rect x="1063" y="58" width="20.5" height="20.5" fill="#001aff"/><rect x="1083" y="58" width="20.5" height="20.5" fill="#0054ff"/><rect x="1103" y="58" width="20.5" height="20.5" fill="#0071ff"/><rect x="1123" y="58" width="20.5" height="20.5" fill="#0000d0"/><rect x="1143" y="58" width="20.5" height="20.5" fill="#0000d0"/><rect x="1163" y="58" width="20.5" height="20.5" fill="#0000f0"/><rect x="1183" y="58" width="20.5" height="20.5" fill="#0000f0"/><rect x="1203" y="58" width="20.5" height="20.5" fill="#0000f0"/><rect x="1223" y="58" width="20.5" height="20.5" fill="#0000f0"/><rect x="803" y="78" width="20.5" height="20.5" fill="#0000e6"/><rect x="823" y="78" width="20.5" height="20.5" fill="#0000e6"/><rect x="843" y="78" width="20.5" height="20.5" fill="#0000f4"/><rect x="863" y="78" width="20.5" height="20.5" fill="#002fff"/><rect x="883" y="78" width="20.5" height="20.5" fill="#004dff"/><rect x="903" y="78" width="20.5" height="20.5" fill="#0000c8"/><rect x="923" y="78" width="20.5" height="20.5" fill="#0000ba"/><rect x="943" y="78" width="20.5" height="20.5" fill="#0000ba"/><rect x="963" y="78" width="20.5" height="20.5" fill="#0000ba"/><rect x="983" y="78" width="20.5" height="20.5" fill="#0000ba"/><rect x="1003" y="78" width="20.5" height="20.5" fill="#0000ba"/><rect x="1023" y="78" width="20.5" height="20.5" fill="#0000d7"/><rect x="1043" y="78" width="20.5" height="20.5" fill="#0000d7"/><rect x="1063" y="78" width="20.5" height="20.5" fill="#001aff"/><rect x="1083" y="78" width="20.5" height="20.5" fill="#0071ff"/><rect x="1103" y="78" width="20.5" height="20.5" fill="#00a4ff"/><rect x="1123" y="78" width="20.5" height="20.5" fill="#0000e6"/><rect x="1143" y="78" width="20.5" height="20.5" fill="#0000d0"/><rect x="1163" y="78" width="20.5" height="20.5" fill="#0000f0"/><rect x="1183" y="78" width="20.5" height="20.5" fill="#0000f0"/><rect x="1203" y="78" width="20.5" height="20.5" fill="#0000f0"/><rect x="1223" y="78" width="20.5" height="20.5" fill="#0000f0"/><rect x="803" y="98" width="20.5" height="20.5" fill="#0000e6"/><rect x="823" y="98" width="20.5" height="20.5" fill="#0000e6"/><rect x="843" y="98" width="20.5" height="20.5" fill="#0012ff"/><rect x="863" y="98" width="20.5" height="20.5" fill="#005bff"/><rect x="883" y="98" width="20.5" height="20.5" fill="#005bff"/><rect x="903" y="98" width="20.5" height="20.5" fill="#0021ff"/><rect x="923" y="98" width="20.5" height="20.5" fill="#0000c8"/><rect x="943" y="98" width="20.5" height="20.5" fill="#0000c8"/><rect x="963" y="98" width="20.5" height="20.5" fill="#0000c8"/><rect x="983" y="98" width="20.5" height="20.5" fill="#0000c1"/><rect x="1003" y="98" width="20.5" height="20.5" fill="#0000c1"/><rect x="1023" y="98" width="20.5" height="20.5" fill="#0000c8"/><rect x="1043" y="98" width="20.5" height="20.5" fill="#0000d0"/><rect x="1063" y="98" width="20.5" height="20.5" fill="#0000fe"/><rect x="1083" y="98" width="20.5" height="20.5" fill="#008eff"/><rect x="1103" y="98" width="20.5" height="20.5" fill="#00d0ff"/><rect x="1123" y="98" width="20.5" height="20.5" fill="#008eff"/><rect x="1143" y="98" width="20.5" height="20.5" fill="#0000e6"/><rect x="1163" y="98" width="20.5" height="20.5" fill="#0000d7"/><rect x="1183" y="98" width="20.5" height="20.5" fill="#0000f0"/><rect x="1203" y="98" width="20.5" height="20.5" fill="#0000f0"/><rect x="1223" y="98" width="20.5" height="20.5" fill="#0000f0"/><rect x="803" y="118" width="20.5" height="20.5" fill="#0021ff"/><rect x="823" y="118" width="20.5" height="20.5" fill="#0021ff"/><rect x="843" y="118" width="20.5" height="20.5" fill="#002fff"/><rect x="863" y="118" width="20.5" height="20.5" fill="#005bff"/><rect x="883" y="118" width="20.5" height="20.5" fill="#0078ff"/><rect x="903" y="118" width="20.5" height="20.5" fill="#0078ff"/><rect x="923" y="118" width="20.5" height="20.5" fill="#003eff"/><rect x="943" y="118" width="20.5" height="20.5" fill="#0000f4"/><rect x="963" y="118" width="20.5" height="20.5" fill="#0000e6"/><rect x="983" y="118" width="20.5" height="20.5" fill="#0000d7"/><rect x="1003" y="118" width="20.5" height="20.5" fill="#0000d7"/><rect x="1023" y="118" width="20.5" height="20.5" fill="#0000e6"/><rect x="1043" y="118" width="20.5" height="20.5" fill="#0004ff"/><rect x="1063" y="118" width="20.5" height="20.5" fill="#0000fe"/><rect x="1083" y="118" width="20.5" height="20.5" fill="#0037ff"/><rect x="1103" y="118" width="20.5" height="20.5" fill="#008eff"/><rect x="1123" y="118" width="20.5" height="20.5" fill="#008eff"/><rect x="1143" y="118" width="20.5" height="20.5" fill="#0054ff"/><rect x="1163" y="118" width="20.5" height="20.5" fill="#0000f0"/><rect x="1183" y="118" width="20.5" height="20.5" fill="#0000f0"/><rect x="1203" y="118" width="20.5" height="20.5" fill="#0000f0"/><rect x="1223" y="118" width="20.5" height="20.5" fill="#0000f0"/><rect x="803" y="138" width="20.5" height="20.5" fill="#003eff"/><rect x="823" y="138" width="20.5" height="20.5" fill="#003eff"/><rect x="843" y="138" width="20.5" height="20.5" fill="#004dff"/><rect x="863" y="138" width="20.5" height="20.5" fill="#005bff"/><rect x="883" y="138" width="20.5" height="20.5" fill="#0095ff"/><rect x="903" y="138" width="20.5" height="20.5" fill="#00a4ff"/><rect x="923" y="138" width="20.5" height="20.5" fill="#00b3ff"/><rect x="943" y="138" width="20.5" height="20.5" fill="#0078ff"/><rect x="963" y="138" width="20.5" height="20.5" fill="#0021ff"/><rect x="983" y="138" width="20.5" height="20.5" fill="#0000e6"/><rect x="1003" y="138" width="20.5" height="20.5" fill="#0000e6"/><rect x="1023" y="138" width="20.5" height="20.5" fill="#0095ff"/><rect x="1043" y="138" width="20.5" height="20.5" fill="#008eff"/><rect x="1063" y="138" width="20.5" height="20.5" fill="#0071ff"/><rect x="1083" y="138" width="20.5" height="20.5" fill="#0087ff"/><rect x="1103" y="138" width="20.5" height="20.5" fill="#0095ff"/><rect x="1123" y="138" width="20.5" height="20.5" fill="#00a4ff"/><rect x="1143" y="138" width="20.5" height="20.5" fill="#0054ff"/><rect x="1163" y="138" width="20.5" height="20.5" fill="#0000f0"/><rect x="1183" y="138" width="20.5" height="20.5" fill="#0000f0"/><rect x="1203" y="138" width="20.5" height="20.5" fill="#0000f0"/><rect x="1223" y="138" width="20.5" height="20.5" fill="#0000f0"/><rect x="803" y="158" width="20.5" height="20.5" fill="#004dff"/><rect x="823" y="158" width="20.5" height="20.5" fill="#004dff"/><rect x="843" y="158" width="20.5" height="20.5" fill="#005bff"/><rect x="863" y="158" width="20.5" height="20.5" fill="#005bff"/><rect x="883" y="158" width="20.5" height="20.5" fill="#0078ff"/><rect x="903" y="158" width="20.5" height="20.5" fill="#00c1ff"/><rect x="923" y="158" width="20.5" height="20.5" fill="#00d0ff"/><rect x="943" y="158" width="20.5" height="20.5" fill="#00edff"/><rect x="963" y="158" width="20.5" height="20.5" fill="#00d0ff"/><rect x="983" y="158" width="20.5" height="20.5" fill="#00b3ff"/><rect x="1003" y="158" width="20.5" height="20.5" fill="#00c1ff"/><rect x="1023" y="158" width="20.5" height="20.5" fill="#00b3ff"/><rect x="1043" y="158" width="20.5" height="20.5" fill="#00a4ff"/><rect x="1063" y="158" width="20.5" height="20.5" fill="#0087ff"/><rect x="1083" y="158" width="20.5" height="20.5" fill="#0062ff"/><rect x="1103" y="158" width="20.5" height="20.5" fill="#0054ff"/><rect x="1123" y="158" width="20.5" height="20.5" fill="#0037ff"/><rect x="1143" y="158" width="20.5" height="20.5" fill="#001aff"/><rect x="1163" y="158" width="20.5" height="20.5" fill="#0000f0"/><rect x="1183" y="158" width="20.5" height="20.5" fill="#0000f0"/><rect x="1203" y="158" width="20.5" height="20.5" fill="#0000f0"/><rect x="1223" y="158" width="20.5" height="20.5" fill="#0000f0"/><rect x="803" y="178" width="20.5" height="20.5" fill="#0071ff"/><rect x="823" y="178" width="20.5" height="20.5" fill="#0071ff"/><rect x="843" y="178" width="20.5" height="20.5" fill="#0080ff"/><rect x="863" y="178" width="20.5" height="20.5" fill="#0087ff"/><rect x="883" y="178" width="20.5" height="20.5" fill="#00b3ff"/><rect x="903" y="178" width="20.5" height="20.5" fill="#00c1ff"/><rect x="923" y="178" width="20.5" height="20.5" fill="#0bfff4"/><rect x="943" y="178" width="20.5" height="20.5" fill="#62ff9d"/><rect x="963" y="178" width="20.5" height="20.5" fill="#80ff80"/><rect x="983" y="178" width="20.5" height="20.5" fill="#80ff80"/><rect x="1003" y="178" width="20.5" height="20.5" fill="#28ffd7"/><rect x="1023" y="178" width="20.5" height="20.5" fill="#0004ff"/><rect x="1043" y="178" width="20.5" height="20.5" fill="#0000f4"/><rect x="1063" y="178" width="20.5" height="20.5" fill="#001aff"/><rect x="1083" y="178" width="20.5" height="20.5" fill="#001aff"/><rect x="1103" y="178" width="20.5" height="20.5" fill="#001aff"/><rect x="1123" y="178" width="20.5" height="20.5" fill="#0000fe"/><rect x="1143" y="178" width="20.5" height="20.5" fill="#0000f0"/><rect x="1163" y="178" width="20.5" height="20.5" fill="#0000f0"/><rect x="1183" y="178" width="20.5" height="20.5" fill="#0000f0"/><rect x="1203" y="178" width="20.5" height="20.5" fill="#0000f0"/><rect x="1223" y="178" width="20.5" height="20.5" fill="#0000f0"/><rect x="803" y="198" width="20.5" height="20.5" fill="#0071ff"/><rect x="823" y="198" width="20.5" height="20.5" fill="#0071ff"/><rect x="843" y="198" width="20.5" height="20.5" fill="#008eff"/><rect x="863" y="198" width="20.5" height="20.5" fill="#0095ff"/><rect x="883" y="198" width="20.5" height="20.5" fill="#00b3ff"/><rect x="903" y="198" width="20.5" height="20.5" fill="#00c1ff"/><rect x="923" y="198" width="20.5" height="20.5" fill="#00edff"/><rect x="943" y="198" width="20.5" height="20.5" fill="#45ffba"/><rect x="963" y="198" width="20.5" height="20.5" fill="#80ff80"/><rect x="983" y="198" width="20.5" height="20.5" fill="#c8ff37"/><rect x="1003" y="198" width="20.5" height="20.5" fill="#e5ff1a"/><rect x="1023" y="198" width="20.5" height="20.5" fill="#0078ff"/><rect x="1043" y="198" width="20.5" height="20.5" fill="#0000e6"/><rect x="1063" y="198" width="20.5" height="20.5" fill="#001aff"/><rect x="1083" y="198" width="20.5" height="20.5" fill="#001aff"/><rect x="1103" y="198" width="20.5" height="20.5" fill="#001aff"/><rect x="1123" y="198" width="20.5" height="20.5" fill="#0000fe"/><rect x="1143" y="198" width="20.5" height="20.5" fill="#0000f0"/><rect x="1163" y="198" width="20.5" height="20.5" fill="#0000f0"/><rect x="1183" y="198" width="20.5" height="20.5" fill="#0000f0"/><rect x="1203" y="198" width="20.5" height="20.5" fill="#0000f0"/><rect x="1223" y="198" width="20.5" height="20.5" fill="#0000f0"/><rect x="803" y="218" width="20.5" height="20.5" fill="#0054ff"/><rect x="823" y="218" width="20.5" height="20.5" fill="#0054ff"/><rect x="843" y="218" width="20.5" height="20.5" fill="#0054ff"/><rect x="863" y="218" width="20.5" height="20.5" fill="#0037ff"/><rect x="883" y="218" width="20.5" height="20.5" fill="#0028ff"/><rect x="903" y="218" width="20.5" height="20.5" fill="#0037ff"/><rect x="923" y="218" width="20.5" height="20.5" fill="#0095ff"/><rect x="943" y="218" width="20.5" height="20.5" fill="#00d0ff"/><rect x="963" y="218" width="20.5" height="20.5" fill="#45ffba"/><rect x="983" y="218" width="20.5" height="20.5" fill="#62ff9d"/><rect x="1003" y="218" width="20.5" height="20.5" fill="#9dff62"/><rect x="1023" y="218" width="20.5" height="20.5" fill="#f4ff0b"/><rect x="1043" y="218" width="20.5" height="20.5" fill="#28ffd7"/><rect x="1063" y="218" width="20.5" height="20.5" fill="#00deff"/><rect x="1083" y="218" width="20.5" height="20.5" fill="#0095ff"/><rect x="1103" y="218" width="20.5" height="20.5" fill="#0037ff"/><rect x="1123" y="218" width="20.5" height="20.5" fill="#0000f0"/><rect x="1143" y="218" width="20.5" height="20.5" fill="#0000f0"/><rect x="1163" y="218" width="20.5" height="20.5" fill="#0000f0"/><rect x="1183" y="218" width="20.5" height="20.5" fill="#0000f0"/><rect x="1203" y="218" width="20.5" height="20.5" fill="#0000f0"/><rect x="1223" y="218" width="20.5" height="20.5" fill="#0000f0"/><rect x="803" y="238" width="20.5" height="20.5" fill="#0062ff"/><rect x="823" y="238" width="20.5" height="20.5" fill="#0062ff"/><rect x="843" y="238" width="20.5" height="20.5" fill="#0054ff"/><rect x="863" y="238" width="20.5" height="20.5" fill="#0000fe"/><rect x="883" y="238" width="20.5" height="20.5" fill="#0000f0"/><rect x="903" y="238" width="20.5" height="20.5" fill="#001aff"/><rect x="923" y="238" width="20.5" height="20.5" fill="#0037ff"/><rect x="943" y="238" width="20.5" height="20.5" fill="#008eff"/><rect x="963" y="238" width="20.5" height="20.5" fill="#00deff"/><rect x="983" y="238" width="20.5" height="20.5" fill="#0bfff4"/><rect x="1003" y="238" width="20.5" height="20.5" fill="#008eff"/><rect x="1023" y="238" width="20.5" height="20.5" fill="#9dff62"/><rect x="1043" y="238" width="20.5" height="20.5" fill="#00edff"/><rect x="1063" y="238" width="20.5" height="20.5" fill="#62ff9d"/><rect x="1083" y="238" width="20.5" height="20.5" fill="#00a4ff"/><rect x="1103" y="238" width="20.5" height="20.5" fill="#0037ff"/><rect x="1123" y="238" width="20.5" height="20.5" fill="#001aff"/><rect x="1143" y="238" width="20.5" height="20.5" fill="#0000f0"/><rect x="1163" y="238" width="20.5" height="20.5" fill="#0000f0"/><rect x="1183" y="238" width="20.5" height="20.5" fill="#0000f0"/><rect x="1203" y="238" width="20.5" height="20.5" fill="#0000f0"/><rect x="1223" y="238" width="20.5" height="20.5" fill="#0000f0"/><rect x="803" y="258" width="20.5" height="20.5" fill="#0054ff"/><rect x="823" y="258" width="20.5" height="20.5" fill="#0054ff"/><rect x="843" y="258" width="20.5" height="20.5" fill="#0045ff"/><rect x="863" y="258" width="20.5" height="20.5" fill="#0000fe"/><rect x="883" y="258" width="20.5" height="20.5" fill="#001aff"/><rect x="903" y="258" width="20.5" height="20.5" fill="#001aff"/><rect x="923" y="258" width="20.5" height="20.5" fill="#0037ff"/><rect x="943" y="258" width="20.5" height="20.5" fill="#0095ff"/><rect x="963" y="258" width="20.5" height="20.5" fill="#008eff"/><rect x="983" y="258" width="20.5" height="20.5" fill="#008eff"/><rect x="1003" y="258" width="20.5" height="20.5" fill="#0071ff"/><rect x="1023" y="258" width="20.5" height="20.5" fill="#00c1ff"/><rect x="1043" y="258" width="20.5" height="20.5" fill="#00a4ff"/><rect x="1063" y="258" width="20.5" height="20.5" fill="#00c1ff"/><rect x="1083" y="258" width="20.5" height="20.5" fill="#0071ff"/><rect x="1103" y="258" width="20.5" height="20.5" fill="#0037ff"/><rect x="1123" y="258" width="20.5" height="20.5" fill="#001aff"/><rect x="1143" y="258" width="20.5" height="20.5" fill="#0000fe"/><rect x="1163" y="258" width="20.5" height="20.5" fill="#0000fe"/><rect x="1183" y="258" width="20.5" height="20.5" fill="#0000fe"/><rect x="1203" y="258" width="20.5" height="20.5" fill="#0000fe"/><rect x="1223" y="258" width="20.5" height="20.5" fill="#0000fe"/><rect x="803" y="278" width="20.5" height="20.5" fill="#0045ff"/><rect x="823" y="278" width="20.5" height="20.5" fill="#0045ff"/><rect x="843" y="278" width="20.5" height="20.5" fill="#0037ff"/><rect x="863" y="278" width="20.5" height="20.5" fill="#0028ff"/><rect x="883" y="278" width="20.5" height="20.5" fill="#0028ff"/><rect x="903" y="278" width="20.5" height="20.5" fill="#0028ff"/><rect x="923" y="278" width="20.5" height="20.5" fill="#0037ff"/><rect x="943" y="278" width="20.5" height="20.5" fill="#0054ff"/><rect x="963" y="278" width="20.5" height="20.5" fill="#0054ff"/><rect x="983" y="278" width="20.5" height="20.5" fill="#0071ff"/><rect x="1003" y="278" width="20.5" height="20.5" fill="#0071ff"/><rect x="1023" y="278" width="20.5" height="20.5" fill="#00d0ff"/><rect x="1043" y="278" width="20.5" height="20.5" fill="#0071ff"/><rect x="1063" y="278" width="20.5" height="20.5" fill="#0000f0"/><rect x="1083" y="278" width="20.5" height="20.5" fill="#0028ff"/><rect x="1103" y="278" width="20.5" height="20.5" fill="#0045ff"/><rect x="1123" y="278" width="20.5" height="20.5" fill="#001aff"/><rect x="1143" y="278" width="20.5" height="20.5" fill="#0000fe"/><rect x="1163" y="278" width="20.5" height="20.5" fill="#0000fe"/><rect x="1183" y="278" width="20.5" height="20.5" fill="#0000fe"/><rect x="1203" y="278" width="20.5" height="20.5" fill="#0000fe"/><rect x="1223" y="278" width="20.5" height="20.5" fill="#0000fe"/><rect x="803" y="298" width="20.5" height="20.5" fill="#0037ff"/><rect x="823" y="298" width="20.5" height="20.5" fill="#0037ff"/><rect x="843" y="298" width="20.5" height="20.5" fill="#0037ff"/><rect x="863" y="298" width="20.5" height="20.5" fill="#0028ff"/><rect x="883" y="298" width="20.5" height="20.5" fill="#0028ff"/><rect x="903" y="298" width="20.5" height="20.5" fill="#0028ff"/><rect x="923" y="298" width="20.5" height="20.5" fill="#0037ff"/><rect x="943" y="298" width="20.5" height="20.5" fill="#0054ff"/><rect x="963" y="298" width="20.5" height="20.5" fill="#0054ff"/><rect x="983" y="298" width="20.5" height="20.5" fill="#0054ff"/><rect x="1003" y="298" width="20.5" height="20.5" fill="#0054ff"/><rect x="1023" y="298" width="20.5" height="20.5" fill="#0071ff"/><rect x="1043" y="298" width="20.5" height="20.5" fill="#001aff"/><rect x="1063" y="298" width="20.5" height="20.5" fill="#0000f0"/><rect x="1083" y="298" width="20.5" height="20.5" fill="#0000fe"/><rect x="1103" y="298" width="20.5" height="20.5" fill="#0000fe"/><rect x="1123" y="298" width="20.5" height="20.5" fill="#0000fe"/><rect x="1143" y="298" width="20.5" height="20.5" fill="#0000fe"/><rect x="1163" y="298" width="20.5" height="20.5" fill="#0000fe"/><rect x="1183" y="298" width="20.5" height="20.5" fill="#0000fe"/><rect x="1203" y="298" width="20.5" height="20.5" fill="#0000fe"/><rect x="1223" y="298" width="20.5" height="20.5" fill="#0000fe"/><rect x="803" y="318" width="20.5" height="20.5" fill="#0037ff"/><rect x="823" y="318" width="20.5" height="20.5" fill="#0037ff"/><rect x="843" y="318" width="20.5" height="20.5" fill="#0037ff"/><rect x="863" y="318" width="20.5" height="20.5" fill="#0028ff"/><rect x="883" y="318" width="20.5" height="20.5" fill="#0028ff"/><rect x="903" y="318" width="20.5" height="20.5" fill="#0028ff"/><rect x="923" y="318" width="20.5" height="20.5" fill="#0037ff"/><rect x="943" y="318" width="20.5" height="20.5" fill="#0045ff"/><rect x="963" y="318" width="20.5" height="20.5" fill="#0045ff"/><rect x="983" y="318" width="20.5" height="20.5" fill="#0045ff"/><rect x="1003" y="318" width="20.5" height="20.5" fill="#0045ff"/><rect x="1023" y="318" width="20.5" height="20.5" fill="#0045ff"/><rect x="1043" y="318" width="20.5" height="20.5" fill="#0028ff"/><rect x="1063" y="318" width="20.5" height="20.5" fill="#0000fe"/><rect x="1083" y="318" width="20.5" height="20.5" fill="#0000fe"/><rect x="1103" y="318" width="20.5" height="20.5" fill="#0000fe"/><rect x="1123" y="318" width="20.5" height="20.5" fill="#0000fe"/><rect x="1143" y="318" width="20.5" height="20.5" fill="#0000fe"/><rect x="1163" y="318" width="20.5" height="20.5" fill="#0000fe"/><rect x="1183" y="318" width="20.5" height="20.5" fill="#0000fe"/><rect x="1203" y="318" width="20.5" height="20.5" fill="#0000fe"/><rect x="1223" y="318" width="20.5" height="20.5" fill="#0000fe"/><rect x="803" y="338" width="20.5" height="20.5" fill="#0037ff"/><rect x="823" y="338" width="20.5" height="20.5" fill="#0037ff"/><rect x="843" y="338" width="20.5" height="20.5" fill="#0037ff"/><rect x="863" y="338" width="20.5" height="20.5" fill="#0028ff"/><rect x="883" y="338" width="20.5" height="20.5" fill="#0028ff"/><rect x="903" y="338" width="20.5" height="20.5" fill="#0028ff"/><rect x="923" y="338" width="20.5" height="20.5" fill="#0037ff"/><rect x="943" y="338" width="20.5" height="20.5" fill="#0045ff"/><rect x="963" y="338" width="20.5" height="20.5" fill="#0045ff"/><rect x="983" y="338" width="20.5" height="20.5" fill="#0045ff"/><rect x="1003" y="338" width="20.5" height="20.5" fill="#0045ff"/><rect x="1023" y="338" width="20.5" height="20.5" fill="#0045ff"/><rect x="1043" y="338" width="20.5" height="20.5" fill="#0028ff"/><rect x="1063" y="338" width="20.5" height="20.5" fill="#0000fe"/><rect x="1083" y="338" width="20.5" height="20.5" fill="#0000fe"/><rect x="1103" y="338" width="20.5" height="20.5" fill="#0000fe"/><rect x="1123" y="338" width="20.5" height="20.5" fill="#0000fe"/><rect x="1143" y="338" width="20.5" height="20.5" fill="#0000fe"/><rect x="1163" y="338" width="20.5" height="20.5" fill="#0000fe"/><rect x="1183" y="338" width="20.5" height="20.5" fill="#0000fe"/><rect x="1203" y="338" width="20.5" height="20.5" fill="#0000fe"/><rect x="1223" y="338" width="20.5" height="20.5" fill="#0000fe"/><rect x="803" y="358" width="20.5" height="20.5" fill="#0037ff"/><rect x="823" y="358" width="20.5" height="20.5" fill="#0037ff"/><rect x="843" y="358" width="20.5" height="20.5" fill="#0037ff"/><rect x="863" y="358" width="20.5" height="20.5" fill="#0028ff"/><rect x="883" y="358" width="20.5" height="20.5" fill="#0028ff"/><rect x="903" y="358" width="20.5" height="20.5" fill="#0028ff"/><rect x="923" y="358" width="20.5" height="20.5" fill="#0037ff"/><rect x="943" y="358" width="20.5" height="20.5" fill="#0045ff"/><rect x="963" y="358" width="20.5" height="20.5" fill="#0045ff"/><rect x="983" y="358" width="20.5" height="20.5" fill="#0045ff"/><rect x="1003" y="358" width="20.5" height="20.5" fill="#0045ff"/><rect x="1023" y="358" width="20.5" height="20.5" fill="#0045ff"/><rect x="1043" y="358" width="20.5" height="20.5" fill="#0028ff"/><rect x="1063" y="358" width="20.5" height="20.5" fill="#0000fe"/><rect x="1083" y="358" width="20.5" height="20.5" fill="#0000fe"/><rect x="1103" y="358" width="20.5" height="20.5" fill="#0000fe"/><rect x="1123" y="358" width="20.5" height="20.5" fill="#0000fe"/><rect x="1143" y="358" width="20.5" height="20.5" fill="#0000fe"/><rect x="1163" y="358" width="20.5" height="20.5" fill="#0000fe"/><rect x="1183" y="358" width="20.5" height="20.5" fill="#0000fe"/><rect x="1203" y="358" width="20.5" height="20.5" fill="#0000fe"/><rect x="1223" y="358" width="20.5" height="20.5" fill="#0000fe"/></g>
<polyline points="945.0,190.0 970.0,195.0 1000.0,205.0 1020.0,220.0 1045.0,234.0 1070.0,246.0" fill="none" stroke="#abff54" stroke-width="20" stroke-linecap="round" stroke-linejoin="round" filter="url(#bl4)"/>
<polyline points="955.0,194.0 980.0,198.0 1000.0,205.0 1018.0,218.0 1043.0,235.0 1066.0,246.0" fill="none" stroke="#f4ff0b" stroke-width="8" stroke-linecap="round" stroke-linejoin="round" filter="url(#bl2)"/>
<polyline points="982.0,198.0 1008.0,205.0" fill="none" stroke="#ff9500" stroke-width="3.5" stroke-linecap="round" stroke-linejoin="round" filter="url(#bl2)"/>
<polyline points="1003.0,214.0 1022.0,222.0" fill="none" stroke="#ff8700" stroke-width="3.5" stroke-linecap="round" stroke-linejoin="round" filter="url(#bl2)"/>
<polyline points="1026.0,229.0 1046.0,238.0" fill="none" stroke="#ffa400" stroke-width="3.5" stroke-linecap="round" stroke-linejoin="round" filter="url(#bl2)"/>
<polygon points="892.8,165.8 892.8,174.8 960,151.8 1040,124.5 1110,101 1110,98 1040,119.5 960,145" fill="#0000ed" filter="url(#bl05)"/>
<polyline points="823,198.5 893,176.5" fill="none" stroke="#0000f4" stroke-width="2.6" filter="url(#bl05)"/>
</g>
<polygon points="823.0,184.8 892.8,166.5 892.8,174.8 823.0,196.4" fill="#fff"/>
<polygon points="822.6,278.7 828.7,282.0 822.6,285.2" fill="#fff"/>
<g fill="#0000e6">
<polygon points="1160.0,124.0 1178.0,131.0 1177.0,133.2 1159.0,126.2"/>
<polygon points="1181.0,134.0 1193.0,139.5 1192.0,141.5 1180.0,136.2"/>
<polygon points="1184.0,126.0 1187.0,126.0 1187.0,133.0 1184.0,133.0"/>
<polygon points="1166.0,128.5 1180.0,133.5 1179.0,135.0 1165.0,130.0"/>
</g>
<g fill="#0004ff">
<polygon points="1058.0,93.0 1105.0,95.5 1105.0,98.8 1058.0,98.5"/>
<polygon points="1062.0,103.0 1068.0,102.0 1070.0,106.0 1064.0,107.0"/>
<polygon points="1072.0,108.0 1080.0,107.0 1081.0,110.0 1074.0,111.0"/>
<polygon points="1082.0,112.0 1088.0,111.0 1089.0,114.0 1083.0,115.0"/>
<polygon points="1064.0,111.0 1070.0,112.0 1069.0,115.0"/>
</g>
<g stroke="#fff" stroke-width="0.9" opacity="0.85">
<line x1="1120" y1="100" x2="1172" y2="104"/>
<line x1="1120" y1="100" x2="1172" y2="109"/>
<line x1="1120" y1="100" x2="1160" y2="112"/>
<line x1="1120" y1="100" x2="1166" y2="116"/>
</g>
<g stroke="#0021ff" stroke-width="1.1">
<line x1="1108" y1="96" x2="1066" y2="68"/>
<line x1="1108" y1="96" x2="1064" y2="72"/>
<line x1="1108" y1="96" x2="1063" y2="77"/>
<line x1="1108" y1="96" x2="1062" y2="82"/>
<line x1="1108" y1="96" x2="1066" y2="88"/>
<line x1="1108" y1="96" x2="1070" y2="93"/>
</g>
<line x1="1115.7" y1="18" x2="1115.7" y2="100" stroke="#fff" stroke-width="1" opacity="0.75"/>
<circle cx="1115.8" cy="99" r="7.3" fill="#fff"/>
<line x1="937.9" y1="337.9" x2="1115.5" y2="100" stroke="#000" stroke-width="3.0" stroke-dasharray="11.5 10.5"/>
<rect x="75.0" y="18" width="390.4" height="329" fill="none" stroke="#3c3c3c" stroke-width="1.3"/>
<line x1="172.6" y1="347" x2="172.6" y2="343" stroke="#3c3c3c" stroke-width="1.2"/>
<line x1="172.6" y1="18" x2="172.6" y2="22" stroke="#3c3c3c" stroke-width="1.2"/>
<line x1="270.2" y1="347" x2="270.2" y2="343" stroke="#3c3c3c" stroke-width="1.2"/>
<line x1="270.2" y1="18" x2="270.2" y2="22" stroke="#3c3c3c" stroke-width="1.2"/>
<line x1="367.8" y1="347" x2="367.8" y2="343" stroke="#3c3c3c" stroke-width="1.2"/>
<line x1="367.8" y1="18" x2="367.8" y2="22" stroke="#3c3c3c" stroke-width="1.2"/>
<line x1="75.0" y1="100.2" x2="79.0" y2="100.2" stroke="#3c3c3c" stroke-width="1.2"/>
<line x1="465.4" y1="100.2" x2="461.4" y2="100.2" stroke="#3c3c3c" stroke-width="1.2"/>
<line x1="75.0" y1="182.5" x2="79.0" y2="182.5" stroke="#3c3c3c" stroke-width="1.2"/>
<line x1="465.4" y1="182.5" x2="461.4" y2="182.5" stroke="#3c3c3c" stroke-width="1.2"/>
<line x1="75.0" y1="264.8" x2="79.0" y2="264.8" stroke="#3c3c3c" stroke-width="1.2"/>
<line x1="465.4" y1="264.8" x2="461.4" y2="264.8" stroke="#3c3c3c" stroke-width="1.2"/>
<text x="75.0" y="376.1" text-anchor="middle" class="tk">-60</text>
<text x="172.6" y="376.1" text-anchor="middle" class="tk">-40</text>
<text x="270.2" y="376.1" text-anchor="middle" class="tk">-20</text>
<text x="367.8" y="376.1" text-anchor="middle" class="tk">0</text>
<text x="465.4" y="376.1" text-anchor="middle" class="tk">20</text>
<text x="70.7" y="27.5" text-anchor="end" class="tk">20</text>
<text x="70.7" y="109.8" text-anchor="end" class="tk">0</text>
<text x="70.7" y="192.0" text-anchor="end" class="tk">-20</text>
<text x="70.7" y="274.2" text-anchor="end" class="tk">-40</text>
<text x="70.7" y="356.5" text-anchor="end" class="tk">-60</text>
<text x="270.2" y="406" text-anchor="middle" class="lb">Distance (km)</text>
<text transform="translate(27.8,182.8) rotate(-90)" text-anchor="middle" class="lb">Distance (km)</text>
<text x="84.6" y="58.3" class="ti">(a)18:26 LST</text>
<rect x="822.8" y="18" width="390.4" height="329" fill="none" stroke="#3c3c3c" stroke-width="1.3"/>
<line x1="920.4" y1="347" x2="920.4" y2="343" stroke="#3c3c3c" stroke-width="1.2"/>
<line x1="920.4" y1="18" x2="920.4" y2="22" stroke="#3c3c3c" stroke-width="1.2"/>
<line x1="1018.0" y1="347" x2="1018.0" y2="343" stroke="#3c3c3c" stroke-width="1.2"/>
<line x1="1018.0" y1="18" x2="1018.0" y2="22" stroke="#3c3c3c" stroke-width="1.2"/>
<line x1="1115.6" y1="347" x2="1115.6" y2="343" stroke="#3c3c3c" stroke-width="1.2"/>
<line x1="1115.6" y1="18" x2="1115.6" y2="22" stroke="#3c3c3c" stroke-width="1.2"/>
<line x1="822.8" y1="100.2" x2="826.8" y2="100.2" stroke="#3c3c3c" stroke-width="1.2"/>
<line x1="1213.2" y1="100.2" x2="1209.2" y2="100.2" stroke="#3c3c3c" stroke-width="1.2"/>
<line x1="822.8" y1="182.5" x2="826.8" y2="182.5" stroke="#3c3c3c" stroke-width="1.2"/>
<line x1="1213.2" y1="182.5" x2="1209.2" y2="182.5" stroke="#3c3c3c" stroke-width="1.2"/>
<line x1="822.8" y1="264.8" x2="826.8" y2="264.8" stroke="#3c3c3c" stroke-width="1.2"/>
<line x1="1213.2" y1="264.8" x2="1209.2" y2="264.8" stroke="#3c3c3c" stroke-width="1.2"/>
<text x="822.8" y="376.1" text-anchor="middle" class="tk">-60</text>
<text x="920.4" y="376.1" text-anchor="middle" class="tk">-40</text>
<text x="1018.0" y="376.1" text-anchor="middle" class="tk">-20</text>
<text x="1115.6" y="376.1" text-anchor="middle" class="tk">0</text>
<text x="1213.2" y="376.1" text-anchor="middle" class="tk">20</text>
<text x="818.5" y="27.5" text-anchor="end" class="tk">20</text>
<text x="818.5" y="109.8" text-anchor="end" class="tk">0</text>
<text x="818.5" y="192.0" text-anchor="end" class="tk">-20</text>
<text x="818.5" y="274.2" text-anchor="end" class="tk">-40</text>
<text x="818.5" y="356.5" text-anchor="end" class="tk">-60</text>
<text x="1018.0" y="406" text-anchor="middle" class="lb">Distance (km)</text>
<text transform="translate(775.6,182.8) rotate(-90)" text-anchor="middle" class="lb">Distance (km)</text>
<text x="832.4" y="58.3" class="ti">(b)18:45 LST</text>
<linearGradient id="cbA" x1="0" y1="0" x2="0" y2="1"><stop offset="0.000" stop-color="#800000"/><stop offset="0.025" stop-color="#990000"/><stop offset="0.050" stop-color="#b30000"/><stop offset="0.075" stop-color="#cc0000"/><stop offset="0.100" stop-color="#e50000"/><stop offset="0.125" stop-color="#ff0000"/><stop offset="0.150" stop-color="#ff1a00"/><stop offset="0.175" stop-color="#ff3300"/><stop offset="0.200" stop-color="#ff4c00"/><stop offset="0.225" stop-color="#ff6600"/><stop offset="0.250" stop-color="#ff8000"/><stop offset="0.275" stop-color="#ff9900"/><stop offset="0.300" stop-color="#ffb300"/><stop offset="0.325" stop-color="#ffcc00"/><stop offset="0.350" stop-color="#ffe500"/><stop offset="0.375" stop-color="#ffff00"/><stop offset="0.400" stop-color="#e5ff1a"/><stop offset="0.425" stop-color="#ccff33"/><stop offset="0.450" stop-color="#b3ff4c"/><stop offset="0.475" stop-color="#99ff66"/><stop offset="0.500" stop-color="#80ff80"/><stop offset="0.525" stop-color="#66ff99"/><stop offset="0.550" stop-color="#4dffb3"/><stop offset="0.575" stop-color="#33ffcc"/><stop offset="0.600" stop-color="#1affe5"/><stop offset="0.625" stop-color="#00ffff"/><stop offset="0.650" stop-color="#00e5ff"/><stop offset="0.675" stop-color="#00ccff"/><stop offset="0.700" stop-color="#00b3ff"/><stop offset="0.725" stop-color="#0099ff"/><stop offset="0.750" stop-color="#0080ff"/><stop offset="0.775" stop-color="#0066ff"/><stop offset="0.800" stop-color="#004dff"/><stop offset="0.825" stop-color="#0033ff"/><stop offset="0.850" stop-color="#001aff"/><stop offset="0.875" stop-color="#0000ff"/><stop offset="0.900" stop-color="#0000e6"/><stop offset="0.925" stop-color="#0000cc"/><stop offset="0.950" stop-color="#0000b3"/><stop offset="0.975" stop-color="#000099"/><stop offset="1.000" stop-color="#000080"/></linearGradient>
<rect x="471" y="18" width="30.5" height="329" fill="url(#cbA)" stroke="#3c3c3c" stroke-width="1.2"/>
<line x1="498.0" y1="323.5" x2="501.5" y2="323.5" stroke="#3c3c3c" stroke-width="1.2"/>
<text x="509.3" y="332.8" class="tk">0</text>
<line x1="498.0" y1="276.5" x2="501.5" y2="276.5" stroke="#3c3c3c" stroke-width="1.2"/>
<text x="509.3" y="285.8" class="tk">10</text>
<line x1="498.0" y1="229.5" x2="501.5" y2="229.5" stroke="#3c3c3c" stroke-width="1.2"/>
<text x="509.3" y="238.8" class="tk">20</text>
<line x1="498.0" y1="182.5" x2="501.5" y2="182.5" stroke="#3c3c3c" stroke-width="1.2"/>
<text x="509.3" y="191.8" class="tk">30</text>
<line x1="498.0" y1="135.5" x2="501.5" y2="135.5" stroke="#3c3c3c" stroke-width="1.2"/>
<text x="509.3" y="144.8" class="tk">40</text>
<line x1="498.0" y1="88.5" x2="501.5" y2="88.5" stroke="#3c3c3c" stroke-width="1.2"/>
<text x="509.3" y="97.8" class="tk">50</text>
<line x1="498.0" y1="41.5" x2="501.5" y2="41.5" stroke="#3c3c3c" stroke-width="1.2"/>
<text x="509.3" y="50.8" class="tk">60</text>
<text transform="translate(566.1,228.6) rotate(-90)" class="cl">Z<tspan class="sub" dy="10.7">H</tspan><tspan dy="-10.7"> (dBZ)</tspan></text>
<linearGradient id="cbB" x1="0" y1="0" x2="0" y2="1"><stop offset="0.000" stop-color="#800000"/><stop offset="0.025" stop-color="#990000"/><stop offset="0.050" stop-color="#b30000"/><stop offset="0.075" stop-color="#cc0000"/><stop offset="0.100" stop-color="#e50000"/><stop offset="0.125" stop-color="#ff0000"/><stop offset="0.150" stop-color="#ff1a00"/><stop offset="0.175" stop-color="#ff3300"/><stop offset="0.200" stop-color="#ff4c00"/><stop offset="0.225" stop-color="#ff6600"/><stop offset="0.250" stop-color="#ff8000"/><stop offset="0.275" stop-color="#ff9900"/><stop offset="0.300" stop-color="#ffb300"/><stop offset="0.325" stop-color="#ffcc00"/><stop offset="0.350" stop-color="#ffe500"/><stop offset="0.375" stop-color="#ffff00"/><stop offset="0.400" stop-color="#e5ff1a"/><stop offset="0.425" stop-color="#ccff33"/><stop offset="0.450" stop-color="#b3ff4c"/><stop offset="0.475" stop-color="#99ff66"/><stop offset="0.500" stop-color="#80ff80"/><stop offset="0.525" stop-color="#66ff99"/><stop offset="0.550" stop-color="#4dffb3"/><stop offset="0.575" stop-color="#33ffcc"/><stop offset="0.600" stop-color="#1affe5"/><stop offset="0.625" stop-color="#00ffff"/><stop offset="0.650" stop-color="#00e5ff"/><stop offset="0.675" stop-color="#00ccff"/><stop offset="0.700" stop-color="#00b3ff"/><stop offset="0.725" stop-color="#0099ff"/><stop offset="0.750" stop-color="#0080ff"/><stop offset="0.775" stop-color="#0066ff"/><stop offset="0.800" stop-color="#004dff"/><stop offset="0.825" stop-color="#0033ff"/><stop offset="0.850" stop-color="#001aff"/><stop offset="0.875" stop-color="#0000ff"/><stop offset="0.900" stop-color="#0000e6"/><stop offset="0.925" stop-color="#0000cc"/><stop offset="0.950" stop-color="#0000b3"/><stop offset="0.975" stop-color="#000099"/><stop offset="1.000" stop-color="#000080"/></linearGradient>
<rect x="1218.6" y="18" width="30.5" height="329" fill="url(#cbB)" stroke="#3c3c3c" stroke-width="1.2"/>
<line x1="1245.6" y1="323.5" x2="1249.1" y2="323.5" stroke="#3c3c3c" stroke-width="1.2"/>
<text x="1256.9" y="332.8" class="tk">0</text>
<line x1="1245.6" y1="276.5" x2="1249.1" y2="276.5" stroke="#3c3c3c" stroke-width="1.2"/>
<text x="1256.9" y="285.8" class="tk">10</text>
<line x1="1245.6" y1="229.5" x2="1249.1" y2="229.5" stroke="#3c3c3c" stroke-width="1.2"/>
<text x="1256.9" y="238.8" class="tk">20</text>
<line x1="1245.6" y1="182.5" x2="1249.1" y2="182.5" stroke="#3c3c3c" stroke-width="1.2"/>
<text x="1256.9" y="191.8" class="tk">30</text>
<line x1="1245.6" y1="135.5" x2="1249.1" y2="135.5" stroke="#3c3c3c" stroke-width="1.2"/>
<text x="1256.9" y="144.8" class="tk">40</text>
<line x1="1245.6" y1="88.5" x2="1249.1" y2="88.5" stroke="#3c3c3c" stroke-width="1.2"/>
<text x="1256.9" y="97.8" class="tk">50</text>
<line x1="1245.6" y1="41.5" x2="1249.1" y2="41.5" stroke="#3c3c3c" stroke-width="1.2"/>
<text x="1256.9" y="50.8" class="tk">60</text>
<text transform="translate(1313.7,228.6) rotate(-90)" class="cl">Z<tspan class="sub" dy="10.7">H</tspan><tspan dy="-10.7"> (dBZ)</tspan></text>
</svg>
</body></html>
